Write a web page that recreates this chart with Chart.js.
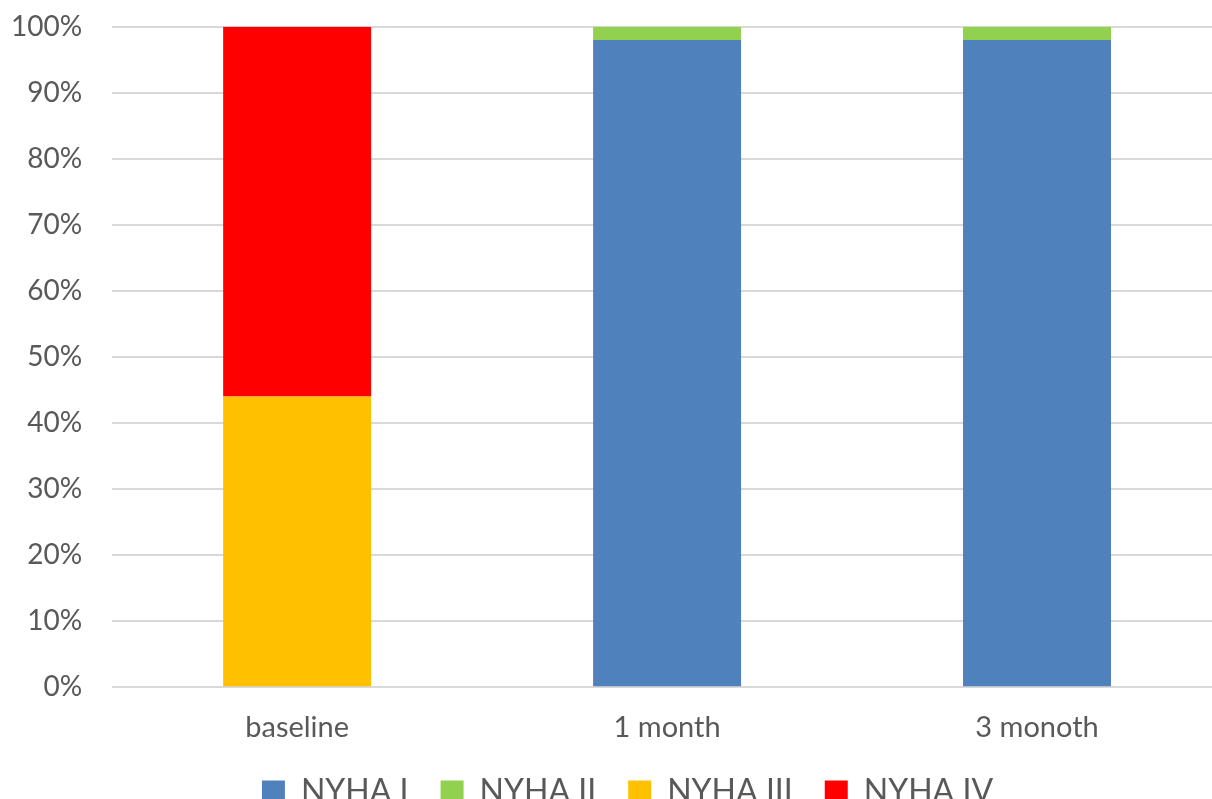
<!DOCTYPE html>
<html>
<head>
<meta charset="utf-8">
<script src="https://cdn.jsdelivr.net/npm/chart.js@4.4.0/dist/chart.umd.min.js"></script>
<style>
  html, body { margin: 0; padding: 0; background: #fff; overflow: hidden; }
  #wrap { width: 1263px; height: 838px; margin-left: -31px; margin-top: -20px; }
</style>
</head>
<body>
<div id="wrap"><canvas id="chart"></canvas></div>
<script>
// categories and stacked shares (%)
const labels   = ['baseline', '1 month', '3 monoth'];
const nyhaI    = [0, 98, 98];
const nyhaII   = [0, 2, 2];
const nyhaIII  = [44, 0, 0];
const nyhaIV   = [56, 0, 0];

const cBlue   = '#4F81BD';
const cGreen  = '#92D050';
const cYellow = '#FFC000';
const cRed    = '#FF0000';
const cText   = '#595959';
const cGrid   = '#d9d9d9';

Chart.defaults.font.family = "Lato, 'Open Sans', sans-serif";
Chart.defaults.color = cText;

const ds = (label, data, color) => ({
  label, data, backgroundColor: color, borderWidth: 0,
  barPercentage: 0.4, categoryPercentage: 1,
});

// nudge the legend row to the right, the way the original sits
const legendShift = {
  id: 'legendShift',
  afterLayout(chart) {
    const lg = chart.legend;
    if (!lg) return;
    lg.left += 26;
    lg.right += 26;
  },
};

new Chart(document.getElementById('chart'), {
  type: 'bar',
  data: {
    labels,
    datasets: [
      ds('NYHA I',   nyhaI,   cBlue),
      ds('NYHA II',  nyhaII,  cGreen),
      ds('NYHA III', nyhaIII, cYellow),
      ds('NYHA IV',  nyhaIV,  cRed),
    ],
  },
  options: {
    responsive: true,
    maintainAspectRatio: false,
    animation: false,
    layout: { padding: { left: 12, right: 10, top: 9, bottom: 0 } },
    scales: {
      x: {
        stacked: true,
        grid: { display: false, drawTicks: false },
        border: { display: false },
        ticks: { font: { size: 29 }, padding: 23 },
      },
      y: {
        stacked: true,
        min: 0, max: 100,
        border: { display: false },
        grid: { color: cGrid, lineWidth: 2, drawTicks: false },
        ticks: { stepSize: 10, font: { size: 28 }, padding: 30, callback: v => v + '%' },
      },
    },
    plugins: {
      legend: {
        position: 'bottom',
        labels: {
          boxWidth: 23, boxHeight: 23, padding: 8, font: { size: 32 }, color: cText,
          generateLabels(chart) {
            const items = Chart.defaults.plugins.legend.labels.generateLabels(chart);
            items.forEach((it, i) => { if (i < items.length - 1) it.text += '\u2003'; });
            return items;
          },
        },
      },
      tooltip: { enabled: false },
    },
  },
  plugins: [legendShift],
});
</script>
</body>
</html>
